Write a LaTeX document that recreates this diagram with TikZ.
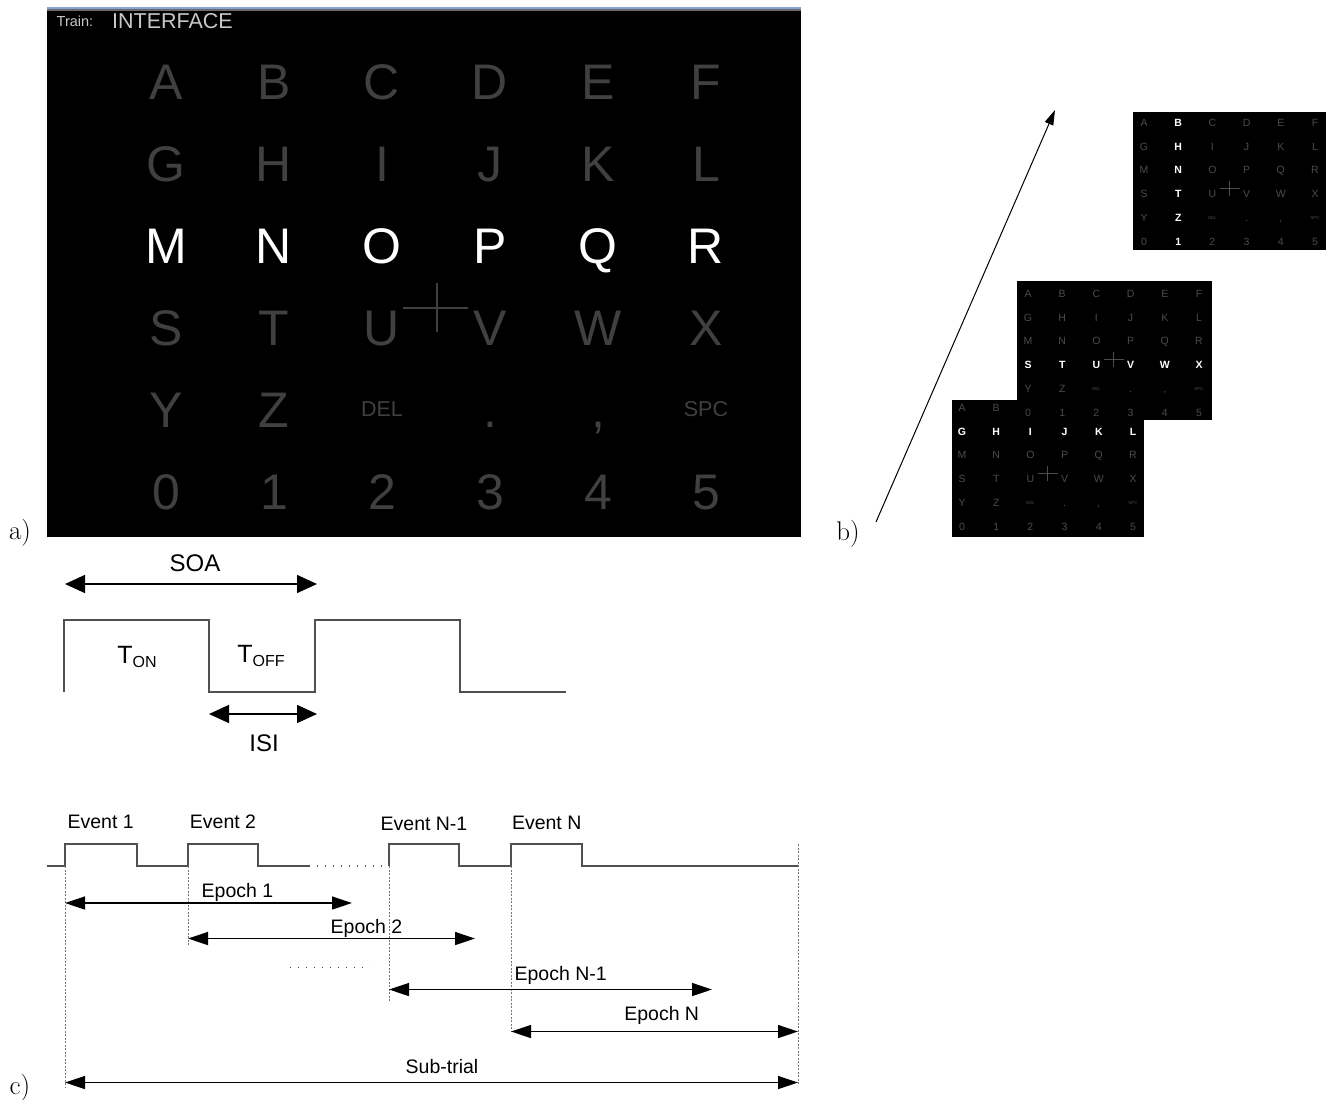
\documentclass[tikz,border=0pt]{standalone}
\usepackage{fontspec}
\newfontfamily\arial{Liberation Sans}
\usetikzlibrary{arrows.meta}

\definecolor{keydim}{HTML}{404040}
\definecolor{keydimsmall}{HTML}{4C4C4C}
\definecolor{titletext}{HTML}{C8C8C8}
\definecolor{titlebar}{HTML}{86A4D4}
\definecolor{titleedge}{HTML}{6A6A6A}
\definecolor{wave}{HTML}{505050}
\definecolor{guide}{HTML}{777777}

\newcommand\fs[1]{\fontsize{#1}{#1}\selectfont}

% Speller matrix: #1 name prefix, #2 x of column 0, #3 baseline of row 0,
% #4 column step, #5 row step, #6 key size, #7 size of DEL/SPC,
% #8 lit row (-1 for none), #9 lit column (-1 for none).
% \dimcol, \litfont, \hidelo and \hidehi are set before each call;
% keys numbered \hidelo..\hidehi lie under another matrix and are left out.
\newcommand\speller[9]{%
  \foreach \lbl [count=\k from 0] in {A,B,C,D,E,F,G,H,I,J,K,L,M,N,O,P,Q,R,S,T,U,V,W,X,Y,Z,DEL,.,{,},SPC,0,1,2,3,4,5}{%
    \pgfmathtruncatemacro\rr{div(\k,6)}%
    \pgfmathtruncatemacro\cc{mod(\k,6)}%
    \pgfmathtruncatemacro\lit{(\rr==#8)||(\cc==#9)}%
    \pgfmathtruncatemacro\word{(\k==26)||(\k==29)}%
    \pgfmathtruncatemacro\hide{(\k>=\hidelo)&&(\k<=\hidehi)}%
    \ifnum\lit=1 \def\kcol{white}\def\kfont{\litfont}\else\def\kcol{\dimcol}\def\kfont{}\fi
    \ifnum\word=1 \def\ksize{#7}\else\def\ksize{#6}\fi
    \ifnum\hide=0
    \node[anchor=base, inner sep=0pt, text=\kcol, font=\arial\fs{\ksize}\kfont]
      (#1-\k) at ({#2+\cc*#4}, {#3+\rr*#5-\word*0.358*(#6-#7)}) {\lbl};
    \fi
  }%
}

\tikzset{
  x=1pt, y=-1pt,
  cross/.style={draw=keydim, line width=1.2pt},
  crosssmall/.style={draw=keydimsmall, line width=0.7pt},
  txta/.style={anchor=base, inner sep=0pt, font=\arial\fs{24}},
  txtc/.style={anchor=base, inner sep=0pt, font=\arial\fs{19.5}},
  panel/.style={anchor=base, inner sep=0pt, font=\fs{27}},
  wavestyle/.style={draw=wave, line width=1.5pt, line join=miter},
  pulsestyle/.style={draw=wave, line width=1.4pt, line join=miter},
  bigarrow/.style={draw=black, line width=1.5pt, {Triangle[length=20pt,width=18pt]}-{Triangle[length=20pt,width=18pt]}},
  smallarrow/.style={draw=black, line width=1.3pt, {Triangle[length=20pt,width=13pt]}-{Triangle[length=20pt,width=13pt]}},
  guideline/.style={draw=guide, line width=0.9pt, dash pattern=on 2pt off 1.5pt},
  gapline/.style={draw=wave, line width=1.2pt, dash pattern=on 1.2pt off 6.8pt},
}

\begin{document}
\begin{tikzpicture}
\useasboundingbox (0,0) rectangle (1326,1100);

% ---------- a) main speller screen ----------
\fill[titlebar] (47,6.5) rectangle (801,9);
\fill[titleedge] (47,9) rectangle (801,10.5);
\fill[black] (47,10.5) rectangle (801,537);
\node[anchor=base, inner sep=0pt, text=titletext, font=\arial\fs{14.5}] (trainlbl) at (75,26.5) {Train:};
\node[anchor=base, inner sep=0pt, text=titletext, font=\arial\fs{21.5}] (wordlbl) at (172.5,28.5) {INTERFACE};
\def\dimcol{keydim}\def\litfont{}\def\hidelo{99}\def\hidehi{-1}
\speller{big}{166}{99}{108}{82}{50}{21.5}{2}{-1}
\draw[cross] (403,308) -- (468,308);
\draw[cross] (437,283) -- (437,332);

\node[panel] (lbla) at (20,539) {a)};

% ---------- b) flashing sequence ----------
\def\dimcol{keydimsmall}\def\litfont{\bfseries}
% lower matrix: row G lit
\fill[black] (952,400) rectangle (1144,537);
\def\hidelo{2}\def\hidehi{5}
\speller{low}{962}{411.5}{34.2}{23.7}{10.5}{4.5}{1}{-1}
\draw[crosssmall] (1037.5,473.4) -- (1057.5,473.4);
\draw[crosssmall] (1047.5,466) -- (1047.5,481);
% middle matrix: row S lit
\fill[black] (1017,281) rectangle (1212,420);
\def\hidelo{99}\def\hidehi{-1}
\speller{mid}{1028}{297.5}{34.2}{23.7}{10.5}{4.5}{3}{-1}
\draw[crosssmall] (1103.5,359.4) -- (1123.5,359.4);
\draw[crosssmall] (1113.5,352) -- (1113.5,367);
% upper matrix: column B lit
\fill[black] (1133,112) rectangle (1330,250);
\speller{top}{1144}{126.5}{34.2}{23.7}{10.5}{4.5}{-1}{1}
\draw[crosssmall] (1219.5,188.4) -- (1239.5,188.4);
\draw[crosssmall] (1229.5,181) -- (1229.5,196);

\coordinate (tstart) at (876,522);
\coordinate (tend) at (1055,110);
\draw[line width=1pt, -{Triangle[length=15pt,width=9pt]}] (tstart) -- (tend);
\node[panel] (lblb) at (848,540) {b)};

% ---------- stimulus timing ----------
\coordinate (w0) at (64,692);
\coordinate (w1) at (64,620);
\coordinate (w2) at (209,620);
\coordinate (w3) at (209,692);
\coordinate (w4) at (315,692);
\coordinate (w5) at (315,620);
\coordinate (w6) at (460,620);
\coordinate (w7) at (460,692);
\coordinate (w8) at (566,692);
\draw[wavestyle] (w0) -- (w1) -- (w2) -- (w3) -- (w4) -- (w5) -- (w6) -- (w7) -- (w8);

\coordinate (soaL) at (65,584);
\coordinate (soaR) at (317,584);
\draw[bigarrow] (soaL) -- (soaR);
\node[txta] (soa) at (195,571.5) {SOA};

\node[anchor=base, inner sep=0pt, font=\arial] (ton) at (137,663)
  {\fs{25}T\raisebox{-4pt}{\fs{16}ON}};
\node[anchor=base, inner sep=0pt, font=\arial] (toff) at (261,662)
  {\fs{25}T\raisebox{-4pt}{\fs{16}OFF}};

\coordinate (isiL) at (209,714);
\coordinate (isiR) at (317,714);
\draw[bigarrow] (isiL) -- (isiR);
\node[txta] (isi) at (264,751.5) {ISI};

% ---------- c) events, epochs and sub-trial ----------
\coordinate (b0) at (47,866);
\coordinate (e1) at (65,866);
\coordinate (e1t) at (65,844);
\coordinate (f1t) at (137,844);
\coordinate (f1) at (137,866);
\coordinate (e2) at (188,866);
\coordinate (e2t) at (188,844);
\coordinate (f2t) at (258,844);
\coordinate (f2) at (258,866);
\coordinate (g0) at (309,866);
\coordinate (eA) at (389,866);
\coordinate (eAt) at (389,844);
\coordinate (fAt) at (459,844);
\coordinate (fA) at (459,866);
\coordinate (eB) at (511,866);
\coordinate (eBt) at (511,844);
\coordinate (fBt) at (582,844);
\coordinate (fB) at (582,866);
\coordinate (bend) at (798,866);
\coordinate (bendt) at (798,844);

\draw[pulsestyle] (b0) -- (e1) -- (e1t) -- (f1t) -- (f1) -- (e2) -- (e2t) -- (f2t) -- (f2) -- (g0);
\draw[gapline] (g0) -- (eA);
\draw[pulsestyle] (eA) -- (eAt) -- (fAt) -- (fA) -- (eB) -- (eBt) -- (fBt) -- (fB) -- (bend);

\node[txtc] (ev1) at (100.7,828.3) {Event 1};
\node[txtc] (ev2) at (223,828.3) {Event 2};
\node[txtc] (evA) at (424,830) {Event N-1};
\node[txtc] (evB) at (546.7,829) {Event N};

% guide lines dropped from each onset
\coordinate (d1) at (65,1087);
\coordinate (d2) at (188,945);
\coordinate (dA) at (389,1002);
\coordinate (dB) at (511,1031.5);
\coordinate (dE) at (798,1084);
\draw[guideline] (e1) -- (d1);
\draw[guideline] (e2) -- (d2);
\draw[guideline] (eA) -- (dA);
\draw[guideline] (eB) -- (dB);
\draw[guideline] (bendt) -- (dE);

% epochs
\coordinate (p1L) at (65,903);
\coordinate (p1R) at (352,903);
\draw[smallarrow] (p1L) -- (p1R);
\node[txtc] (ep1) at (237.5,897) {Epoch 1};

\coordinate (p2L) at (188,938.5);
\coordinate (p2R) at (475,938.5);
\draw[smallarrow] (p2L) -- (p2R);
\node[txtc] (ep2) at (366.5,933) {Epoch 2};

\coordinate (gapL) at (290,967);
\coordinate (gapR) at (370,967);
\draw[gapline, line width=1pt] (gapL) -- (gapR);

\coordinate (pAL) at (389,989.5);
\coordinate (pAR) at (712,989.5);
\draw[smallarrow] (pAL) -- (pAR);
\node[txtc] (epA) at (560.7,980) {Epoch N-1};

\coordinate (pBL) at (511,1031.5);
\coordinate (pBR) at (798,1031.5);
\draw[smallarrow] (pBL) -- (pBR);
\node[txtc] (epB) at (661.7,1020) {Epoch N};

\coordinate (sL) at (65,1082.5);
\coordinate (sR) at (798,1082.5);
\draw[smallarrow] (sL) -- (sR);
\node[txtc] (sub) at (442,1073) {Sub-trial};

\node[panel] (lblc) at (20,1094) {c)};
\end{tikzpicture}
\end{document}
